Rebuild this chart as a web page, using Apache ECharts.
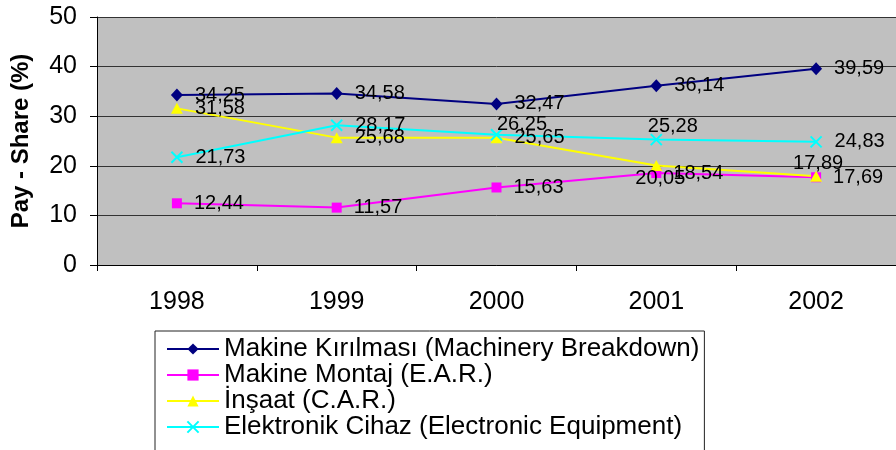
<!DOCTYPE html>
<html>
<head>
<meta charset="utf-8">
<script src="https://cdn.jsdelivr.net/npm/echarts@6/dist/echarts.min.js"></script>
<style>
  html, body { margin: 0; padding: 0; background: #fff; }
  #chart { width: 896px; height: 450px; }
</style>
</head>
<body>
<div id="chart"></div>
<script>
  // yillar
  const years = ['1998', '1999', '2000', '2001', '2002'];
  // seriler
  const seriesNames = [
    'Makine Kırılması (Machinery Breakdown)',
    'Makine Montaj (E.A.R.)',
    'İnşaat (C.A.R.)',
    'Elektronik Cihaz (Electronic Equipment)'
  ];
  const machinery = [34.25, 34.58, 32.47, 36.14, 39.59];
  const montaj = [12.44, 11.57, 15.63, 18.54, 17.69];
  const insaat = [31.58, 25.68, 25.65, 20.05, 17.89];
  const elektronik = [21.73, 28.17, 26.25, 25.28, 24.83];
  const yTicks = [0, 10, 20, 30, 40, 50];

  const font = 'Liberation Sans, Arial, sans-serif';
  const fmt = p => String(p.value).replace('.', ',');

  // label nudges, Excel moved a few of them by hand
  const nudge = {
    2: { 3: [-39, 13], 4: [-41, -13] },
    3: { 2: [-18, -10], 3: [-27, -13] }
  };

  function mk(name, values, color, symbol, size, idx, extra) {
    return Object.assign({
      name: name,
      type: 'line',
      data: values.map((v, i) => {
        const o = nudge[idx] && nudge[idx][i];
        return o ? { value: v, label: { offset: o } } : v;
      }),
      symbol: symbol,
      symbolSize: size,
      lineStyle: { color: color, width: 2 },
      itemStyle: { color: color },
      label: {
        show: true,
        position: 'right',
        distance: 12,
        color: '#000',
        fontFamily: font,
        fontSize: 20,
        formatter: fmt
      },
      emphasis: { disabled: true },
      animation: false
    }, extra || {});
  }

  let chart = echarts.init(document.getElementById('chart'));
  chart.setOption({
    backgroundColor: '#fff',
    grid: { left: 97, top: 17, width: 810, height: 248, show: true, backgroundColor: '#C0C0C0', borderWidth: 0 },
    legend: {
      orient: 'vertical',
      left: 155,
      top: 331,
      height: 110,
      padding: [5, 5, 30, 11],
      borderColor: '#222',
      borderWidth: 1,
      itemWidth: 52,
      itemHeight: 14,
      itemGap: 0,
      textStyle: { fontFamily: font, fontSize: 26, lineHeight: 26, color: '#000' },
      data: seriesNames
    },
    xAxis: {
      type: 'category',
      data: years,
      axisLine: { lineStyle: { color: '#000', width: 1 } },
      axisTick: { show: true, interval: 0, length: 6, lineStyle: { color: '#000' } },
      axisLabel: { color: '#000', fontFamily: font, fontSize: 25, margin: 25 }
    },
    yAxis: {
      type: 'value',
      min: yTicks[0],
      max: yTicks[yTicks.length - 1],
      interval: 10,
      name: 'Pay - Share (%)',
      nameLocation: 'middle',
      nameGap: 64,
      nameTextStyle: { fontFamily: font, fontSize: 24, fontWeight: 'bold', color: '#000' },
      axisLine: { show: true, lineStyle: { color: '#000', width: 1 } },
      axisTick: { show: true, length: 7, lineStyle: { color: '#000' } },
      axisLabel: { color: '#000', fontFamily: font, fontSize: 25, margin: 20 },
      splitLine: { lineStyle: { color: '#333', width: 1 } }
    },
    series: [
      mk(seriesNames[0], machinery, '#000080', 'diamond', [12, 13], 0),
      mk(seriesNames[1], montaj, '#FF00FF', 'rect', 10, 1),
      mk(seriesNames[2], insaat, '#FFFF00', 'triangle', [12, 11], 2),
      mk(seriesNames[3], elektronik, '#00FFFF', 'path://M0,0L10,10M10,0L0,10', 11, 3, {
        itemStyle: { color: '#00FFFF', borderColor: '#00FFFF', borderWidth: 2 }
      })
    ]
  });
</script>
</body>
</html>
